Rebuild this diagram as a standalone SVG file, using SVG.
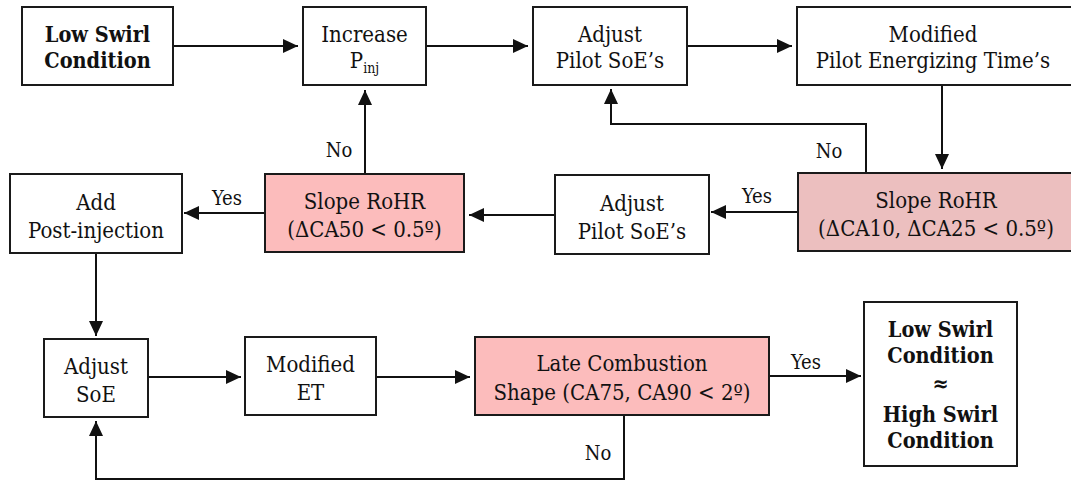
<svg xmlns="http://www.w3.org/2000/svg" width="1071" height="483" viewBox="0 0 1071 483" font-family="DejaVu Serif Condensed, DejaVu Serif, serif">
  <defs>
    <marker id="arrow" markerUnits="userSpaceOnUse" markerWidth="16" markerHeight="15" refX="15" refY="7" orient="auto">
      <path d="M0,0 L15,7 L0,14 z" fill="#111"/>
    </marker>
    <style>
      .box { fill: #fff; stroke: #1a1a1a; stroke-width: 2; }
      .cond { fill: #fcbcbc; stroke: #1a1a1a; stroke-width: 2; }
      .cond2 { fill: #ecbfbf; stroke: #1a1a1a; stroke-width: 2; }
      .t { font-size: 22px; fill: #111; text-anchor: middle; font-stretch: condensed; }
      .b { font-weight: bold; font-size: 21.5px; }
      .lbl { font-size: 20px; fill: #111; text-anchor: middle; font-stretch: condensed; }
      .sub { font-size: 14px; }
      .link { fill: none; stroke: #111; stroke-width: 2; marker-end: url(#arrow); }
    </style>
  </defs>
  <rect width="1071" height="483" fill="#fff"/>

  <g id="connectors">
    <path class="link" d="M173,46 H298"/>
    <path class="link" d="M426,46 H528"/>
    <path class="link" d="M687,46 H792"/>
    <path class="link" d="M942,85 V169"/>
    <path class="link" d="M866,173 V124 H611 V89"/>
    <path class="link" d="M798,212 H711"/>
    <path class="link" d="M555,215 H469"/>
    <path class="link" d="M365,174 V90"/>
    <path class="link" d="M265,213 H184"/>
    <path class="link" d="M96,253 V336"/>
    <path class="link" d="M148,377 H241"/>
    <path class="link" d="M376,377 H470"/>
    <path class="link" d="M769,376 H861"/>
    <path class="link" d="M624,415 V479 H96 V421"/>
    <text class="lbl" x="339" y="157">No</text>
    <text class="lbl" x="829" y="158">No</text>
    <text class="lbl" x="757" y="203">Yes</text>
    <text class="lbl" x="227" y="205">Yes</text>
    <text class="lbl" x="806" y="369">Yes</text>
    <text class="lbl" x="598" y="460">No</text>
  </g>

  <g id="low-swirl">
    <rect class="box" x="22" y="7" width="151" height="78"/>
    <text class="t b" x="97.5" y="42">Low Swirl</text>
    <text class="t b" x="97.5" y="68">Condition</text>
  </g>

  <g id="increase-pinj">
    <rect class="box" x="303" y="7" width="123" height="78"/>
    <text class="t" x="364.5" y="42">Increase</text>
    <text class="t" x="364.5" y="68">P<tspan class="sub" dy="5">inj</tspan></text>
  </g>

  <g id="adjust-pilot-top">
    <rect class="box" x="533" y="7" width="154" height="78"/>
    <text class="t" x="610" y="42">Adjust</text>
    <text class="t" x="610" y="68">Pilot SoE’s</text>
  </g>

  <g id="modified-pilot-et">
    <rect class="box" x="797" y="7" width="276" height="78"/>
    <text class="t" x="933" y="42">Modified</text>
    <text class="t" x="933" y="68">Pilot Energizing Time’s</text>
  </g>

  <g id="slope-ca10-ca25">
    <rect class="cond2" x="798" y="173" width="275" height="78"/>
    <text class="t" x="936" y="208">Slope RoHR</text>
    <text class="t" x="936" y="236">(ΔCA10, ΔCA25 &lt; 0.5º)</text>
  </g>

  <g id="adjust-pilot-mid">
    <rect class="box" x="555" y="175" width="154" height="79"/>
    <text class="t" x="632" y="210.5">Adjust</text>
    <text class="t" x="632" y="238.5">Pilot SoE’s</text>
  </g>

  <g id="slope-ca50">
    <rect class="cond" x="265" y="174" width="199" height="78"/>
    <text class="t" x="364.5" y="209">Slope RoHR</text>
    <text class="t" x="364.5" y="237">(ΔCA50 &lt; 0.5º)</text>
  </g>

  <g id="add-post-injection">
    <rect class="box" x="10" y="174" width="172" height="79"/>
    <text class="t" x="96" y="209.5">Add</text>
    <text class="t" x="96" y="237.5">Post-injection</text>
  </g>

  <g id="adjust-soe">
    <rect class="box" x="44" y="339" width="104" height="78"/>
    <text class="t" x="96" y="374">Adjust</text>
    <text class="t" x="96" y="402">SoE</text>
  </g>

  <g id="modified-et">
    <rect class="box" x="245" y="337" width="131" height="78"/>
    <text class="t" x="310.5" y="372">Modified</text>
    <text class="t" x="310.5" y="400">ET</text>
  </g>

  <g id="late-combustion">
    <rect class="cond" x="475" y="337" width="294" height="78"/>
    <text class="t" x="622" y="371">Late Combustion</text>
    <text class="t" x="622" y="400">Shape (CA75, CA90 &lt; 2º)</text>
  </g>

  <g id="result">
    <rect class="box" x="864" y="302" width="153" height="164"/>
    <text class="t b" x="940.5" y="337">Low Swirl</text>
    <text class="t b" x="940.5" y="363">Condition</text>
    <text class="t b" x="940.5" y="391">≈</text>
    <text class="t b" x="940.5" y="422">High Swirl</text>
    <text class="t b" x="940.5" y="448">Condition</text>
  </g>
</svg>
